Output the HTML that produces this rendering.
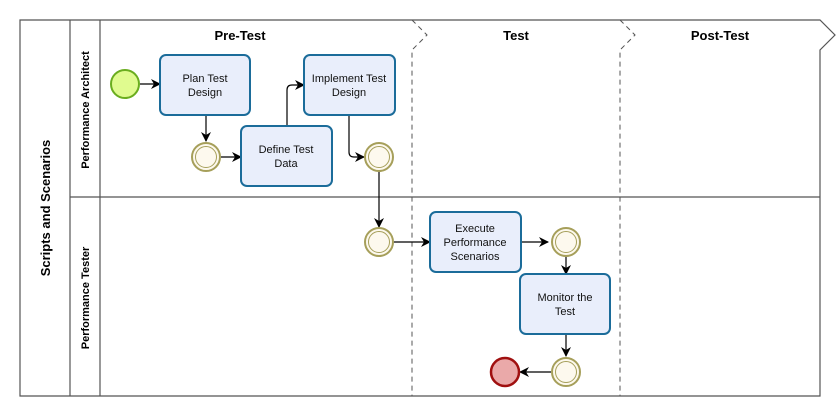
<!DOCTYPE html>
<html><head><meta charset="utf-8"><style>body{margin:0;background:#fff}</style></head><body>
<svg width="840" height="412" xmlns="http://www.w3.org/2000/svg" font-family="Liberation Sans, sans-serif">
<defs><marker id="a" markerWidth="10" markerHeight="10" refX="9" refY="5" orient="auto" markerUnits="userSpaceOnUse"><path d="M0,0 L10,5 L0,10 L3,5 Z" fill="#000"/></marker></defs>
<g fill="none" stroke="#555" stroke-width="1.2">
<path d="M20,20 H820 L835,35 L820,50 V396 H20 Z"/>
<line x1="70" y1="20" x2="70" y2="396"/>
<line x1="100" y1="20" x2="100" y2="396"/>
<line x1="70" y1="197" x2="820" y2="197"/>
</g>
<g fill="none" stroke="#555" stroke-width="1" stroke-dasharray="5,4">
<path d="M412,20 L427,35 L412,50 V396"/>
<path d="M620,20 L635,35 L620,50 V396"/>
</g>
<text x="240" y="40" font-size="13" font-weight="bold" text-anchor="middle">Pre-Test</text>
<text x="516" y="40" font-size="13" font-weight="bold" text-anchor="middle">Test</text>
<text x="720" y="40" font-size="13" font-weight="bold" text-anchor="middle">Post-Test</text>
<text transform="translate(50,208) rotate(-90)" font-size="13" font-weight="bold" text-anchor="middle">Scripts and Scenarios</text>
<text transform="translate(89,110) rotate(-90)" font-size="11" font-weight="bold" text-anchor="middle">Performance Architect</text>
<text transform="translate(89,298) rotate(-90)" font-size="11" font-weight="bold" text-anchor="middle">Performance Tester</text>
<g stroke="#000" stroke-width="1.2" fill="none" marker-end="url(#a)">
<path d="M140,84 H160"/>
<path d="M206,115 V141"/>
<path d="M221,157 H241"/>
<path d="M287,126 V90 Q287,85 292,85 H304"/>
<path d="M349,115 V152 Q349,157 354,157 H364"/>
<path d="M379,172 V227"/>
<path d="M394,242 H430"/>
<path d="M521,242 H548"/>
<path d="M566,257 V274"/>
<path d="M566,334 V356"/>
<path d="M551,372 H520"/>
</g>
<circle cx="125" cy="84" r="14" fill="#e0fb8f" stroke="#6aad1f" stroke-width="2"/>
<g fill="#fdf9ee" stroke="#a69f5a" stroke-width="2">
<circle cx="206" cy="157" r="14"/><circle cx="379" cy="157" r="14"/><circle cx="379" cy="242" r="14"/><circle cx="566" cy="242" r="14"/><circle cx="566" cy="372" r="14"/>
</g>
<g fill="none" stroke="#a69f5a" stroke-width="1">
<circle cx="206" cy="157" r="10.5"/><circle cx="379" cy="157" r="10.5"/><circle cx="379" cy="242" r="10.5"/><circle cx="566" cy="242" r="10.5"/><circle cx="566" cy="372" r="10.5"/>
</g>
<circle cx="505" cy="372" r="14" fill="#eaa9a9" stroke="#a01010" stroke-width="2.5"/>
<g fill="#e9eefb" stroke="#1b6c9a" stroke-width="2">
<rect x="160" y="55" width="90" height="60" rx="6"/>
<rect x="241" y="126" width="91" height="60" rx="6"/>
<rect x="304" y="55" width="91" height="60" rx="6"/>
<rect x="430" y="212" width="91" height="60" rx="6"/>
<rect x="520" y="274" width="90" height="60" rx="6"/>
</g>
<g font-size="11" text-anchor="middle" fill="#111">
<text x="205" y="82">Plan Test</text><text x="205" y="96">Design</text>
<text x="286" y="153">Define Test</text><text x="286" y="167">Data</text>
<text x="349" y="82">Implement Test</text><text x="349" y="96">Design</text>
<text x="475" y="232">Execute</text><text x="475" y="246">Performance</text><text x="475" y="260">Scenarios</text>
<text x="565" y="301">Monitor the</text><text x="565" y="315">Test</text>
</g>
</svg>
</body></html>
